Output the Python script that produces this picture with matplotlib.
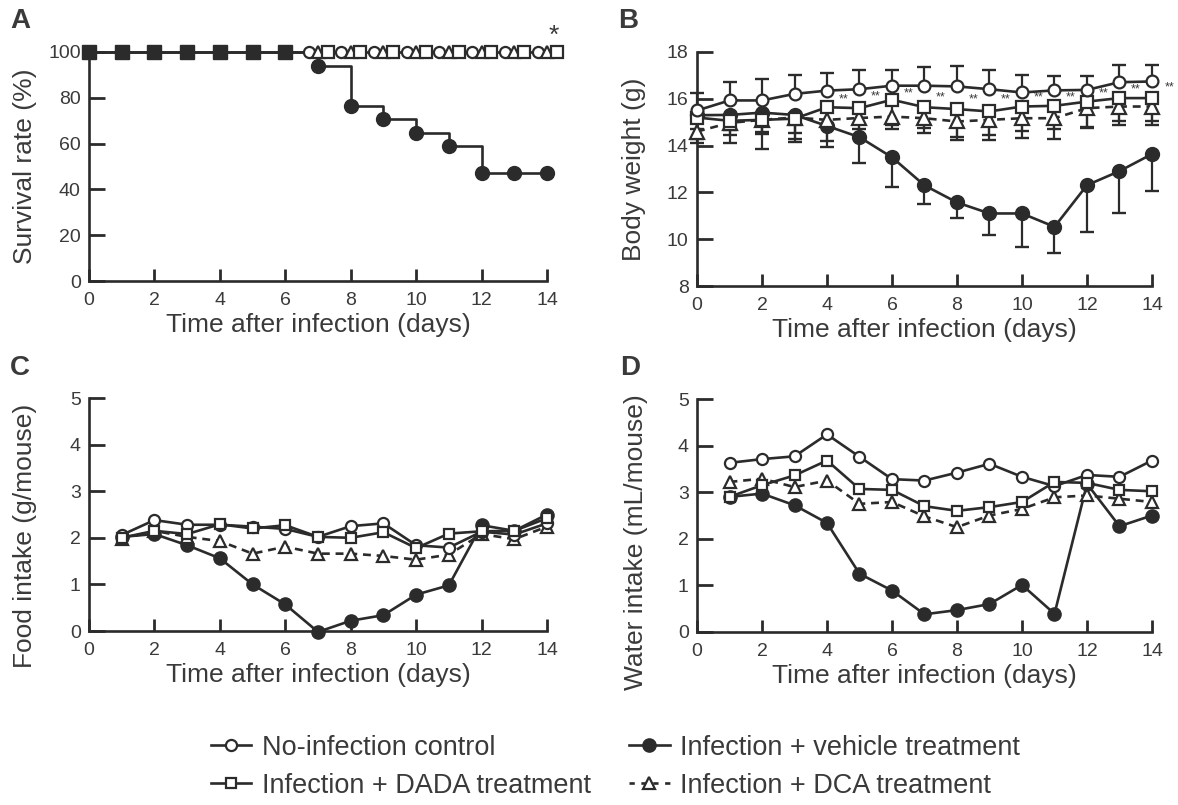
import matplotlib
matplotlib.use('Agg')
import matplotlib.pyplot as plt
import matplotlib.transforms as mtransforms
from matplotlib.lines import Line2D
import numpy as np

plt.rcParams['font.family'] = ['Liberation Sans', 'DejaVu Sans']

DARK = '#2b2b2b'
TXT = '#3a3a3a'

# ---------------- data ----------------
days_surv = [0, 1, 2, 3, 4, 5, 6, 7, 8, 9, 10, 11, 12, 13, 14]
surv_control = [100, 100, 100, 100, 100, 100, 100, 100, 100, 100, 100, 100, 100, 100, 100]
surv_dada = [100, 100, 100, 100, 100, 100, 100, 100, 100, 100, 100, 100, 100, 100, 100]
surv_dca = [100, 100, 100, 100, 100, 100, 100, 100, 100, 100, 100, 100, 100, 100, 100]
surv_vehicle = [100, 100, 100, 100, 100, 100, 100, 94.1, 76.5, 70.6, 64.7, 58.8, 47.1, 47.1, 47.1]

days_bw = [0, 1, 2, 3, 4, 5, 6, 7, 8, 9, 10, 11, 12, 13, 14]
bw_control = [15.5, 15.93, 15.93, 16.21, 16.35, 16.41, 16.56, 16.56, 16.53, 16.41, 16.27, 16.36, 16.38, 16.71, 16.74]
bw_control_sd = [0.75, 0.77, 0.91, 0.82, 0.75, 0.83, 0.68, 0.82, 0.88, 0.83, 0.76, 0.62, 0.60, 0.75, 0.72]
bw_vehicle = [15.3, 15.31, 15.41, 15.31, 14.84, 14.36, 13.5, 12.3, 11.57, 11.1, 11.1, 10.53, 12.31, 12.91, 13.64]
bw_vehicle_sd = [1.0, 1.2, 1.55, 1.14, 0.91, 1.12, 1.26, 0.8, 0.68, 0.9, 1.43, 1.14, 2.02, 1.77, 1.58]
bw_dada = [15.2, 15.06, 15.1, 15.15, 15.64, 15.6, 15.96, 15.64, 15.56, 15.46, 15.67, 15.7, 15.88, 16.03, 16.03]
bw_dada_sd = [0.5, 0.4, 0.5, 0.6, 0.75, 0.9, 1.1, 0.9, 1.2, 1.0, 1.05, 1.0, 1.1, 1.0, 1.0]
bw_dca = [14.6, 14.97, 15.1, 15.2, 15.1, 15.18, 15.24, 15.17, 15.03, 15.1, 15.17, 15.17, 15.6, 15.67, 15.67]
bw_dca_sd = [0.5, 0.5, 0.6, 0.9, 0.9, 0.85, 0.55, 0.65, 0.8, 0.85, 0.85, 0.9, 0.85, 0.8, 0.8]
star_x = [4.5, 5.5, 6.5, 7.5, 8.5, 9.5, 10.5, 11.5, 12.5, 13.5, 14.55]
star_y = [15.96, 16.1, 16.24, 16.06, 15.96, 15.96, 16.06, 16.06, 16.24, 16.41, 16.5]

days_int = [1, 2, 3, 4, 5, 6, 7, 8, 9, 10, 11, 12, 13, 14]
food_control = [2.06, 2.38, 2.28, 2.28, 2.24, 2.19, 2.02, 2.25, 2.31, 1.84, 1.79, 2.13, 2.07, 2.31]
food_dada = [2.0, 2.15, 2.08, 2.29, 2.2, 2.27, 2.02, 2.0, 2.12, 1.78, 2.09, 2.14, 2.15, 2.42]
food_dca = [1.97, 2.15, 2.02, 1.93, 1.66, 1.81, 1.66, 1.66, 1.61, 1.53, 1.64, 2.08, 1.97, 2.24]
food_vehicle = [2.02, 2.08, 1.84, 1.56, 1.0, 0.57, -0.02, 0.22, 0.34, 0.78, 0.98, 2.27, 2.15, 2.5]

water_control = [3.63, 3.71, 3.77, 4.24, 3.76, 3.28, 3.25, 3.42, 3.61, 3.33, 3.13, 3.37, 3.33, 3.68]
water_dada = [2.9, 3.15, 3.36, 3.68, 3.07, 3.05, 2.7, 2.6, 2.68, 2.79, 3.22, 3.2, 3.05, 3.02]
water_dca = [3.22, 3.29, 3.11, 3.25, 2.75, 2.79, 2.48, 2.25, 2.5, 2.64, 2.89, 2.93, 2.86, 2.79]
water_vehicle = [2.9, 2.97, 2.72, 2.34, 1.25, 0.89, 0.38, 0.47, 0.6, 1.01, 0.39, 3.18, 2.27, 2.5]

labels = ['No-infection control', 'Infection + DADA treatment',
          'Infection + vehicle treatment', 'Infection + DCA treatment']

# ---------------- figure ----------------
W, H = 1178, 805
fig = plt.figure(figsize=(W / 100, H / 100), dpi=100)
fig.patch.set_facecolor('white')


def px_axes(left, right, top, bottom):
    return fig.add_axes([left / W, 1 - bottom / H, (right - left) / W, (bottom - top) / H])


axA = px_axes(89, 547, 52, 281)
axB = px_axes(697, 1152, 52, 286)
axC = px_axes(89, 547, 398, 631)
axD = px_axes(697, 1152, 399, 632)

LW = 1.9
MEW = 1.6
FS_LAB = 19
FS_TICK = 14


def style(ax, ylim, yticks, ylabel, lab_xy):
    ax.set_xlim(0, 14)
    ax.set_ylim(*ylim)
    ax.set_xticks(range(0, 15, 2))
    ax.set_yticks(yticks)
    for s in ['top', 'right']:
        ax.spines[s].set_visible(False)
    for s in ['left', 'bottom']:
        ax.spines[s].set_linewidth(1.9)
        ax.spines[s].set_color(DARK)
    ax.tick_params(direction='in', width=2.0, color=DARK,
                   labelcolor=TXT, labelsize=FS_TICK)
    ax.tick_params(axis='y', pad=6, length=11.5)
    ax.tick_params(axis='x', pad=8, length=9)
    ax.set_xlabel('Time after infection (days)', fontsize=FS_LAB, color=TXT, labelpad=3)
    ax.set_ylabel(ylabel, fontsize=FS_LAB, color=TXT)
    ax.yaxis.set_label_coords(*lab_xy)
    ax.set_facecolor('none')


# ---- Panel A ----
style(axA, (0, 100), range(0, 101, 20), 'Survival rate (%)', (-0.113, 0.5))
off = lambda pts: axA.transData + mtransforms.ScaledTranslation(pts / 72, 0, fig.dpi_scale_trans)
axA.plot(days_surv, surv_control, '-', color=DARK, lw=LW, clip_on=False, zorder=2)
axA.plot(days_surv, surv_vehicle, '-', color=DARK, lw=LW, drawstyle='steps-post', clip_on=False, zorder=2)
axA.plot(days_surv[:7], surv_dada[:7], 's', color=DARK, ms=9.5, clip_on=False, zorder=4)
axA.plot(days_surv[7:], surv_control[7:], 'o', mfc='white', mec=DARK, ms=8, mew=MEW,
         transform=off(-6.8), clip_on=False, zorder=4)
axA.plot(days_surv[7:], surv_dca[7:], '^', mfc='white', mec=DARK, ms=8.5, mew=MEW,
         clip_on=False, zorder=4)
axA.plot(days_surv[7:], surv_dada[7:], 's', mfc='white', mec=DARK, ms=8, mew=MEW,
         transform=off(7.0), clip_on=False, zorder=4)
axA.plot(days_surv[7:], surv_vehicle[7:], 'o', color=DARK, ms=10, clip_on=False, zorder=4)
axA.text(14.2, 102, '*', fontsize=19, color=TXT, ha='center', va='bottom')

# ---- Panel B ----
style(axB, (8, 18), range(8, 19, 2), 'Body weight (g)', (-0.112, 0.5))


def one_sided(ax, x, y, sd, up):
    x = np.asarray(x); y = np.asarray(y); sd = np.asarray(sd)
    end = y + sd if up else y - sd
    ax.vlines(x, y, end, color=DARK, lw=1.6, zorder=1.5, clip_on=False)
    ax.plot(x, end, '_', color=DARK, ms=10, mew=1.7, ls='none', zorder=1.5, clip_on=False)


one_sided(axB, days_bw, bw_control, bw_control_sd, True)
one_sided(axB, days_bw, bw_vehicle, bw_vehicle_sd, False)
one_sided(axB, days_bw, bw_dada, bw_dada_sd, False)
one_sided(axB, days_bw, bw_dca, bw_dca_sd, False)
axB.plot(days_bw, bw_vehicle, '-o', color=DARK, lw=LW, ms=10, clip_on=False, zorder=3)
axB.plot(days_bw, bw_dca, '--^', color=DARK, lw=LW, dashes=(3, 2.2), mfc='white', mec=DARK,
         ms=9.5, mew=MEW, clip_on=False, zorder=3.2)
axB.plot(days_bw, bw_dada, '-s', color=DARK, lw=LW, mfc='white', mec=DARK,
         ms=8, mew=MEW, clip_on=False, zorder=3.3)
axB.plot(days_bw, bw_control, '-o', color=DARK, lw=LW, mfc='white', mec=DARK,
         ms=8.5, mew=MEW, clip_on=False, zorder=3.4)
for sx, sy in zip(star_x, star_y):
    axB.text(sx, sy, '**', fontsize=9, color=TXT, ha='center', va='center', clip_on=False)

# ---- Panels C, D ----


def intake(ax, ctrl, dada, dca, veh, ylabel, lab_xy):
    style(ax, (0, 5), range(0, 6), ylabel, lab_xy)
    ax.plot(days_int, veh, '-o', color=DARK, lw=LW, ms=9.5, clip_on=False, zorder=3)
    ax.plot(days_int, dca, '--^', color=DARK, lw=LW, dashes=(3, 2.2), mfc='white', mec=DARK,
            ms=9, mew=MEW, clip_on=False, zorder=3.1)
    ax.plot(days_int, ctrl, '-o', color=DARK, lw=LW, mfc='white', mec=DARK,
            ms=8, mew=MEW, clip_on=False, zorder=3.2)
    ax.plot(days_int, dada, '-s', color=DARK, lw=LW, mfc='white', mec=DARK,
            ms=7.5, mew=MEW, clip_on=False, zorder=3.3)


intake(axC, food_control, food_dada, food_dca, food_vehicle, 'Food intake (g/mouse)', (-0.1135, 0.41))
intake(axD, water_control, water_dada, water_dca, water_vehicle, 'Water intake (mL/mouse)', (-0.108, 0.386))

# ---- panel letters ----
for lx, ly, t in [(10, 28, 'A'), (618, 28, 'B'), (10, 375, 'C'), (620, 375, 'D')]:
    fig.text(lx / W, 1 - ly / H, t, fontsize=20, fontweight='bold', color=TXT,
             ha='left', va='baseline')

# ---- legend ----
h_ctrl = Line2D([], [], color=DARK, lw=LW, marker='o', mfc='white', mec=DARK, ms=8, mew=MEW)
h_dada = Line2D([], [], color=DARK, lw=LW, marker='s', mfc='white', mec=DARK, ms=7.5, mew=MEW)
h_veh = Line2D([], [], color=DARK, lw=LW, marker='o', ms=9.5)
h_dca = Line2D([], [], color=DARK, lw=LW, ls='--', dashes=(2, 2.5), marker='^', mfc='white',
               mec=DARK, ms=8.5, mew=MEW)
fig.legend([h_ctrl, h_dada, h_veh, h_dca], labels, ncol=2, loc='upper left',
           bbox_to_anchor=(197 / W, 1 - 721 / H), frameon=False, fontsize=19.5,
           handlelength=1.5, handletextpad=0.4, columnspacing=1.4, labelspacing=0.45,
           labelcolor=TXT, borderpad=0)

fig.savefig('out.png', dpi=100, facecolor='white')
